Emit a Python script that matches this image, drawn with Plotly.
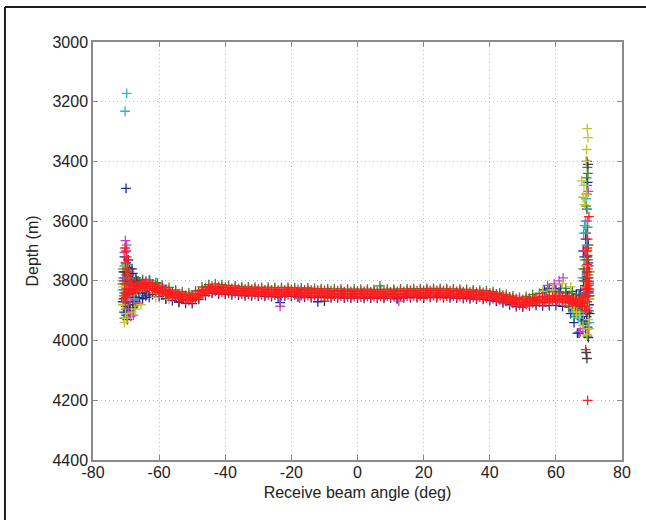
import plotly.graph_objects as go

# Sounding depths vs receive beam angle

x_tickvals = [-80, -60, -40, -20, 0, 20, 40, 60, 80]
x_ticktext = ["-80", "-60", "-40", "-20", "0", "20", "40", "60", "80"]
y_tickvals = [3000, 3200, 3400, 3600, 3800, 4000, 4200, 4400]
y_ticktext = ["3000", "3200", "3400", "3600", "3800", "4000", "4200", "4400"]

# 1 degree beam grid used by the red ping
angle_1deg = [
    -70, -69, -68, -67, -66, -65, -64, -63, -62, -61,
    -60, -59, -58, -57, -56, -55, -54, -53, -52, -51,
    -50, -49, -48, -47, -46, -45, -44, -43, -42, -41,
    -40, -39, -38, -37, -36, -35, -34, -33, -32, -31,
    -30, -29, -28, -27, -26, -25, -24, -23, -22, -21,
    -20, -19, -18, -17, -16, -15, -14, -13, -12, -11,
    -10, -9, -8, -7, -6, -5, -4, -3, -2, -1,
    0, 1, 2, 3, 4, 5, 6, 7, 8, 9,
    10, 11, 12, 13, 14, 15, 16, 17, 18, 19,
    20, 21, 22, 23, 24, 25, 26, 27, 28, 29,
    30, 31, 32, 33, 34, 35, 36, 37, 38, 39,
    40, 41, 42, 43, 44, 45, 46, 47, 48, 49,
    50, 51, 52, 53, 54, 55, 56, 57, 58, 59,
    60, 61, 62, 63, 64, 65, 66, 67, 68, 69,
    70,
]
red_upper = [
    3828, 3826, 3818, 3814, 3808, 3807, 3806, 3810, 3812, 3818,
    3821, 3824, 3830, 3832, 3837, 3838, 3843, 3844, 3848, 3848,
    3847, 3844, 3835, 3830, 3823, 3822, 3818, 3820, 3819, 3822,
    3822, 3822, 3825, 3823, 3826, 3825, 3827, 3826, 3828, 3827,
    3828, 3828, 3830, 3828, 3830, 3829, 3831, 3829, 3830, 3828,
    3829, 3830, 3829, 3831, 3830, 3832, 3831, 3833, 3831, 3833,
    3832, 3834, 3833, 3835, 3833, 3834, 3836, 3834, 3835, 3836,
    3834, 3836, 3835, 3834, 3837, 3835, 3836, 3838, 3835, 3835,
    3836, 3834, 3835, 3833, 3835, 3834, 3832, 3834, 3833, 3832,
    3832, 3831, 3833, 3831, 3832, 3832, 3833, 3832, 3834, 3834,
    3835, 3834, 3836, 3836, 3837, 3836, 3838, 3837, 3839, 3840,
    3840, 3843, 3844, 3847, 3848, 3852, 3854, 3858, 3860, 3863,
    3862, 3861, 3858, 3857, 3855, 3855, 3853, 3853, 3851, 3851,
    3850, 3851, 3851, 3853, 3854, 3858, 3861, 3864, 3855, 3828,
    3803,
]
red_lower = [
    3848, 3843, 3838, 3830, 3827, 3823, 3825, 3826, 3831, 3834,
    3839, 3842, 3847, 3850, 3854, 3856, 3860, 3862, 3865, 3866,
    3866, 3860, 3854, 3846, 3842, 3838, 3837, 3835, 3838, 3838,
    3839, 3841, 3840, 3842, 3842, 3844, 3842, 3845, 3843, 3846,
    3845, 3847, 3846, 3847, 3847, 3848, 3846, 3849, 3846, 3847,
    3846, 3848, 3847, 3849, 3848, 3849, 3850, 3849, 3851, 3850,
    3851, 3850, 3852, 3851, 3853, 3851, 3852, 3854, 3852, 3853,
    3852, 3854, 3852, 3853, 3854, 3853, 3855, 3853, 3854, 3852,
    3853, 3852, 3854, 3851, 3852, 3851, 3851, 3850, 3851, 3850,
    3850, 3849, 3850, 3849, 3851, 3849, 3850, 3851, 3852, 3851,
    3852, 3853, 3853, 3854, 3854, 3855, 3856, 3855, 3857, 3857,
    3859, 3860, 3863, 3864, 3867, 3869, 3873, 3875, 3879, 3880,
    3881, 3879, 3877, 3874, 3874, 3872, 3872, 3870, 3870, 3868,
    3869, 3868, 3870, 3870, 3873, 3875, 3880, 3881, 3876, 3852,
    3827,
]

# half degree beams of the red ping (middle of the band)
angle_half = [
    -69.5, -68.5, -67.5, -66.5, -65.5, -64.5, -63.5, -62.5, -61.5, -60.5,
    -59.5, -58.5, -57.5, -56.5, -55.5, -54.5, -53.5, -52.5, -51.5, -50.5,
    -49.5, -48.5, -47.5, -46.5, -45.5, -44.5, -43.5, -42.5, -41.5, -40.5,
    -39.5, -38.5, -37.5, -36.5, -35.5, -34.5, -33.5, -32.5, -31.5, -30.5,
    -29.5, -28.5, -27.5, -26.5, -25.5, -24.5, -23.5, -22.5, -21.5, -20.5,
    -19.5, -18.5, -17.5, -16.5, -15.5, -14.5, -13.5, -12.5, -11.5, -10.5,
    -9.5, -8.5, -7.5, -6.5, -5.5, -4.5, -3.5, -2.5, -1.5, -0.5,
    0.5, 1.5, 2.5, 3.5, 4.5, 5.5, 6.5, 7.5, 8.5, 9.5,
    10.5, 11.5, 12.5, 13.5, 14.5, 15.5, 16.5, 17.5, 18.5, 19.5,
    20.5, 21.5, 22.5, 23.5, 24.5, 25.5, 26.5, 27.5, 28.5, 29.5,
    30.5, 31.5, 32.5, 33.5, 34.5, 35.5, 36.5, 37.5, 38.5, 39.5,
    40.5, 41.5, 42.5, 43.5, 44.5, 45.5, 46.5, 47.5, 48.5, 49.5,
    50.5, 51.5, 52.5, 53.5, 54.5, 55.5, 56.5, 57.5, 58.5, 59.5,
    60.5, 61.5, 62.5, 63.5, 64.5, 65.5, 66.5, 67.5, 68.5, 69.5,
]
red_mid = [
    3838, 3829, 3827, 3818, 3818, 3813, 3819, 3818, 3826, 3827,
    3834, 3835, 3842, 3841, 3848, 3847, 3854, 3853, 3859, 3857,
    3856, 3846, 3843, 3833, 3833, 3827, 3830, 3826, 3831, 3829,
    3833, 3830, 3835, 3832, 3836, 3833, 3837, 3834, 3838, 3836,
    3839, 3836, 3840, 3837, 3841, 3838, 3840, 3837, 3840, 3836,
    3840, 3837, 3841, 3838, 3842, 3839, 3842, 3840, 3843, 3840,
    3844, 3841, 3845, 3842, 3845, 3842, 3846, 3843, 3846, 3843,
    3846, 3843, 3846, 3843, 3847, 3844, 3847, 3844, 3847, 3843,
    3846, 3843, 3845, 3842, 3845, 3841, 3844, 3841, 3844, 3840,
    3843, 3840, 3843, 3840, 3843, 3840, 3844, 3841, 3845, 3842,
    3846, 3843, 3847, 3844, 3848, 3845, 3849, 3846, 3850, 3848,
    3853, 3852, 3857, 3856, 3861, 3861, 3867, 3867, 3873, 3871,
    3873, 3868, 3869, 3864, 3866, 3862, 3864, 3860, 3862, 3859,
    3862, 3859, 3863, 3862, 3867, 3868, 3874, 3869, 3857, 3826,
]
red_extra_angle = [
    -70.6, -70.3, -70.0, -69.8, -70.2, -69.6, -70.0, -69.5, -70.4, -70.1,
    -70.2, -69.4, -69.0, -68.6, -70.8,
    69.3, 69.5, 69.6, 69.4, 69.7, 69.5, 69.2, 69.6, 69.4, 69.5,
    69.6, 70.0, 69.4, 69.8, 69.5, 69.0, 69.6, 69.2, 68.7, 69.9, 70.1,
]
red_extra_depth = [
    3840, 3690, 3700, 3720, 3740, 3760, 3780, 3800, 3810, 3855,
    3870, 3730, 3770, 3800, 3860,
    3800, 3790, 3780, 3770, 3760, 3745, 3730, 3715, 3700, 3690,
    3660, 3585, 3820, 3850, 3870, 4030, 4200, 3900, 3885, 3835, 3810,
]

# 2 degree grid (blue ping, lower edge of the swath)
angle_2deg = [
    -70, -68, -66, -64, -62, -60, -58, -56, -54, -52,
    -50, -48, -46, -44, -42, -40, -38, -36, -34, -32,
    -30, -28, -26, -24, -22, -20, -18, -16, -14, -12,
    -10, -8, -6, -4, -2, 0, 2, 4, 6, 8,
    10, 12, 14, 16, 18, 20, 22, 24, 26, 28,
    30, 32, 34, 36, 38, 40, 42, 44, 46, 48,
    50, 52, 54, 56, 58, 60, 62, 64, 66, 68,
    70,
]
blue_depth = [
    3866, 3854, 3843, 3840, 3846, 3853, 3860, 3866, 3870, 3875,
    3876, 3862, 3849, 3842, 3844, 3845, 3847, 3848, 3850, 3850,
    3851, 3852, 3853, 3854, 3852, 3852, 3854, 3854, 3856, 3855,
    3856, 3857, 3857, 3858, 3858, 3858, 3859, 3858, 3859, 3859,
    3858, 3858, 3857, 3856, 3856, 3855, 3855, 3856, 3856, 3857,
    3858, 3859, 3860, 3861, 3862, 3866, 3869, 3874, 3880, 3886,
    3888, 3884, 3882, 3884, 3883, 3882, 3885, 3888, 3893, 3888,
    3840,
]
blue_extra_angle = [
    -70.5, -70.0, -69.5, -70.8, -69.0, -70.2, -68.5, -69.7, -70.6, -69.2,
    -70.3, -68.8, -70.0, -69.5, -67.5, -66.5, -67.0, -68.0, -70.0, -69.3,
    -68.2, -67.8, -66.0, -65.0, -64.0, -63.0, -70.4, -69.1, -68.3, -71.0,
    -70.6, -68.0,
    -23.4, -12.0, 12.0,
    69.6, 69.3, 69.0, 69.5, 68.8, 69.9, 69.2, 68.4, 70.0, 69.3,
    66.5, 67.0, 65.5, 64.5, 63.0, 61.5, 60.0, 58.0, 56.5, 67.5,
    66.2, 65.0, 69.6, 68.3, 69.8, 70.2, 68.6, 67.8,
]
blue_extra_depth = [
    3720, 3740, 3755, 3770, 3780, 3790, 3800, 3810, 3830, 3845,
    3860, 3870, 3885, 3900, 3805, 3815, 3790, 3775, 3490, 3730,
    3760, 3840, 3855, 3860, 3850, 3855, 3750, 3800, 3850, 3870,
    3905, 3820,
    3873, 3870, 3860,
    3470, 3510, 3660, 3720, 3760, 3790, 3815, 3845, 3880, 3920,
    3975, 3975, 3940, 3910, 3840, 3825, 3830, 3825, 3830, 3830,
    3845, 3835, 3955, 3700, 3740, 3850, 3935, 3910,
]

# odd degree grid (green ping, upper edge of the swath)
angle_odd = [
    -69, -67, -65, -63, -61, -59, -57, -55, -53, -51,
    -49, -47, -45, -43, -41, -39, -37, -35, -33, -31,
    -29, -27, -25, -23, -21, -19, -17, -15, -13, -11,
    -9, -7, -5, -3, -1, 1, 3, 5, 7, 9,
    11, 13, 15, 17, 19, 21, 23, 25, 27, 29,
    31, 33, 35, 37, 39, 41, 43, 45, 47, 49,
    51, 53, 55, 57, 59, 61, 63, 65, 67, 69,
]
green_depth = [
    3810, 3800, 3795, 3797, 3806, 3814, 3822, 3830, 3836, 3840,
    3834, 3820, 3813, 3810, 3813, 3815, 3817, 3819, 3820, 3821,
    3822, 3821, 3823, 3822, 3822, 3823, 3824, 3824, 3825, 3826,
    3826, 3827, 3827, 3828, 3828, 3828, 3828, 3829, 3829, 3828,
    3828, 3827, 3827, 3826, 3826, 3825, 3825, 3825, 3826, 3827,
    3828, 3829, 3830, 3831, 3833, 3836, 3840, 3845, 3850, 3855,
    3852, 3846, 3842, 3838, 3836, 3836, 3838, 3842, 3846, 3800,
]
green_extra_angle = [
    -70.9, -70.4, -69.8, -70.7, -69.4, -70.1, -69.0, -68.4, -67.2, -66.3,
    -65.0, -70.5, -69.6, -68.7, -67.6, -62.8, -60.5, -70.0, -69.2, -71.1,
    -68.9, -67.0,
    6.8,
    69.5, 69.7, 69.3, 69.4, 69.2, 69.6, 69.0, 69.8, 68.7, 69.4,
    70.0, 68.9, 67.7, 66.4, 65.6, 69.6, 64.0, 61.0, 58.0, 63.0,
    70.2, 68.3, 69.9, 68.5, 67.5,
]
green_extra_depth = [
    3760, 3790, 3820, 3850, 3870, 3895, 3910, 3830, 3795, 3800,
    3798, 3925, 3745, 3900, 3880, 3800, 3808, 3770, 3780, 3810,
    3860, 3835,
    3817,
    3420, 3440, 3455, 3480, 3550, 3620, 3700, 3730, 3790, 3840,
    3900, 3945, 3930, 3900, 3920, 3985, 3885, 3840, 3835, 3825,
    3770, 3760, 3815, 3870, 3900,
]

black_angle = [
    -70.8, -70.2, -69.4, -68.9, -70.0, -68.0, -67.0, -66.0, -64.5, -69.6,
    -62.0, -58.0, -54.0, -70.5, -69.2, -68.4, -66.8,
    -10.0, 20.0,
    69.4, 69.7, 69.4, 69.1, 69.8, 69.3, 68.9, 70.1, 69.5, 69.2,
    69.4, 69.8, 68.2, 67.2, 66.2, 65.3, 63.5, 69.0, 68.6, 69.9,
    68.4, 69.6, 68.0, 70.2,
]
black_depth = [
    3800, 3840, 3880, 3760, 3915, 3890, 3870, 3840, 3835, 3930,
    3845, 3860, 3872, 3770, 3900, 3800, 3800,
    3868, 3858,
    3400, 3410, 3560, 3640, 3680, 3770, 3830, 3860, 3940, 4040,
    4060, 3990, 3880, 3850, 3885, 3860, 3850, 3960, 3720, 3750,
    3800, 3905, 3930, 3910,
]

cyan_angle = [
    -69.8, -70.3, -70.6, -69.5, -71.1, -68.5, -67.5, -69.9, -65.8,
    69.1, 69.5, 68.7, 68.4, 68.9, 69.2, 68.6, 69.7, 69.1, 68.3,
    70.1, 66.8, 65.2, 69.4, 68.0,
]
cyan_depth = [
    3172, 3232, 3860, 3790, 3830, 3820, 3860, 3745, 3835,
    3525, 3560, 3615, 3640, 3600, 3680, 3730, 3800, 3870, 3905,
    3940, 3925, 3905, 3960, 3790,
]

magenta_angle = [
    -70.2, -69.8, -70.5, -69.3, -68.6, -67.8, -68.8, -66.5, -70.9, -64.0,
    -59.0, -23.4, -17.5, 12.5,
    69.8, 69.5, 68.8, 69.3, 69.0, 68.1, 67.4, 64.8, 62.2, 61.0,
    59.5, 57.5, 69.6, 70.2, 68.4, 69.9,
]
magenta_depth = [
    3665, 3680, 3705, 3895, 3920, 3915, 3865, 3875, 3790, 3800,
    3818, 3885, 3858, 3868,
    3500, 3600, 3700, 3750, 3900, 3960, 3970, 3875, 3790, 3800,
    3810, 3815, 3890, 3830, 3840, 3960,
]

yellow_angle = [
    -70.5, -70.2, -69.7, -71.0, -70.9, -69.0, -68.3, -67.3, -65.5, -66.8,
    -61.0, -57.0, -70.6,
    69.5, 69.7, 69.3, 69.1, 67.8, 68.5, 68.2, 68.6, 69.2, 69.6,
    69.0, 68.6, 69.8, 68.2, 67.2, 66.2, 65.5, 70.1, 69.4, 64.5,
    62.0, 59.0, 56.0, 68.8, 70.0, 68.0, 69.9,
]
yellow_depth = [
    3940, 3910, 3925, 3880, 3820, 3850, 3905, 3895, 3880, 3830,
    3855, 3862, 3750,
    3290, 3320, 3360, 3400, 3465, 3480, 3520, 3545, 3510, 3700,
    3750, 3880, 3930, 3950, 3915, 3905, 3890, 3960, 3980, 3820,
    3810, 3830, 3835, 3820, 3860, 3860, 3780,
]

series = [
    ("blue", angle_2deg + blue_extra_angle, blue_depth + blue_extra_depth, "#2424a8"),
    ("green", angle_odd + green_extra_angle, green_depth + green_extra_depth, "#2f8a2f"),
    ("black", black_angle, black_depth, "#3a3a3a"),
    ("cyan", cyan_angle, cyan_depth, "#2fb3c4"),
    ("magenta", magenta_angle, magenta_depth, "#c443c4"),
    ("yellow", yellow_angle, yellow_depth, "#c4c42e"),
    ("red", angle_1deg + angle_half + angle_1deg + red_extra_angle,
     red_upper + red_mid + red_lower + red_extra_depth, "#ff1c1c"),
]

fig = go.Figure()
for name, x, y, color in series:
    fig.add_trace(
        go.Scatter(
            x=x,
            y=y,
            mode="markers",
            name=name,
            marker=dict(
                symbol="cross-thin",
                size=7,
                color=color,
                line=dict(color=color, width=1.3),
            ),
            showlegend=False,
        )
    )

axis_common = dict(
    showgrid=True,
    gridcolor="#bdbdbd",
    griddash="1px,3px",
    gridwidth=1,
    zeroline=False,
    showline=True,
    linecolor="#8a8a8a",
    linewidth=1.5,
    mirror="ticks",
    ticks="inside",
    ticklen=5,
    tickcolor="#8a8a8a",
    tickfont=dict(size=16, color="#222222"),
    automargin=False,
)

fig.update_layout(
    width=646,
    height=520,
    margin=dict(l=93, r=24, t=42, b=60),
    paper_bgcolor="white",
    plot_bgcolor="white",
    font=dict(family="Liberation Sans, Arial, sans-serif", color="#222222"),
    xaxis=dict(
        range=[-80, 80],
        tickmode="array",
        tickvals=x_tickvals,
        ticktext=x_ticktext,
        ticklabelstandoff=-3,
        title=dict(text="Receive beam angle (deg)", font=dict(size=16), standoff=7),
        **axis_common,
    ),
    yaxis=dict(
        range=[4400, 3000],
        tickmode="array",
        tickvals=y_tickvals,
        ticktext=y_ticktext,
        title=dict(text="Depth (m)", font=dict(size=16), standoff=10),
        **axis_common,
    ),
    shapes=[
        # figure frame (only top and left edges show in the crop)
        dict(type="line", xref="paper", yref="paper",
             x0=-0.1664, x1=1.06, y0=1.0837, y1=1.0837,
             line=dict(color="#1e1e1e", width=2)),
        dict(type="line", xref="paper", yref="paper",
             x0=-0.1664, x1=-0.1664, y0=1.0837, y1=-0.17,
             line=dict(color="#1e1e1e", width=2)),
    ],
)

# drop the default 8px body margin so the figure sits at the window corner
fig.write_html(
    "out.html",
    config={"displayModeBar": False},
    post_script="document.body.style.margin='0';",
)
